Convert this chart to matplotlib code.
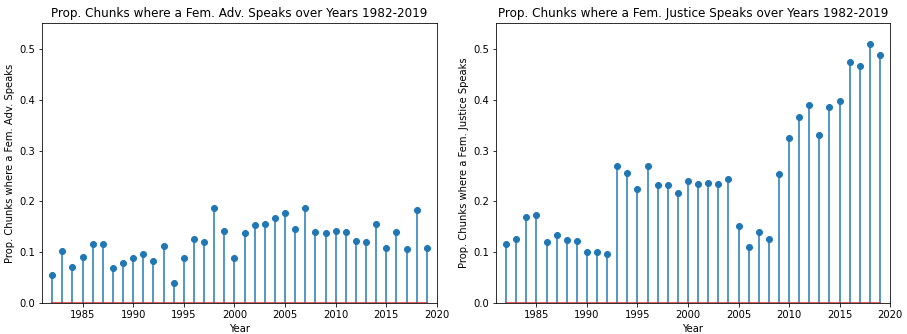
import matplotlib
matplotlib.use("Agg")
import matplotlib.pyplot as plt
import numpy as np

years = np.arange(1982, 2020)

adv_fem = [0.055, 0.102, 0.070, 0.090, 0.116, 0.117, 0.068, 0.079, 0.089, 0.097,
           0.083, 0.112, 0.040, 0.089, 0.126, 0.120, 0.187, 0.141, 0.088, 0.137,
           0.154, 0.156, 0.167, 0.177, 0.146, 0.187, 0.140, 0.138, 0.142, 0.140,
           0.123, 0.120, 0.155, 0.108, 0.140, 0.107, 0.183, 0.109]

just_fem = [0.116, 0.126, 0.170, 0.173, 0.120, 0.133, 0.124, 0.122, 0.100, 0.100,
            0.096, 0.270, 0.255, 0.225, 0.270, 0.232, 0.232, 0.217, 0.240, 0.234,
            0.237, 0.234, 0.244, 0.152, 0.111, 0.140, 0.126, 0.253, 0.325, 0.366,
            0.390, 0.330, 0.385, 0.398, 0.475, 0.467, 0.510, 0.488]

xticks = [1985, 1990, 1995, 2000, 2005, 2010, 2015, 2020]

# original looks like a 72 dpi export, so keep default font sizes
fig = plt.figure(figsize=(907 / 72, 334 / 72), dpi=72)
ax1 = fig.add_axes([0.0463, 0.0928, 0.4818 - 0.0463, 0.931 - 0.0928])
ax2 = fig.add_axes([0.5469, 0.0928, 0.9813 - 0.5469, 0.931 - 0.0928])

ax1.stem(years, adv_fem, basefmt="C3-")
ax1.set_title("Prop. Chunks where a Fem. Adv. Speaks over Years 1982-2019")
ax1.set_xlabel("Year")
ax1.set_ylabel("Prop. Chunks where a Fem. Adv. Speaks")

ax2.stem(years, just_fem, basefmt="C3-")
ax2.set_title("Prop. Chunks where a Fem. Justice Speaks over Years 1982-2019")
ax2.set_xlabel("Year")
ax2.set_ylabel("Prop. Chunks where a Fem. Justice Speaks")

for ax in (ax1, ax2):
    ax.set_ylim(0, 0.551)
    ax.set_xlim(1981, 2020)
    ax.set_xticks(xticks)

plt.savefig("out.png", dpi=72)
